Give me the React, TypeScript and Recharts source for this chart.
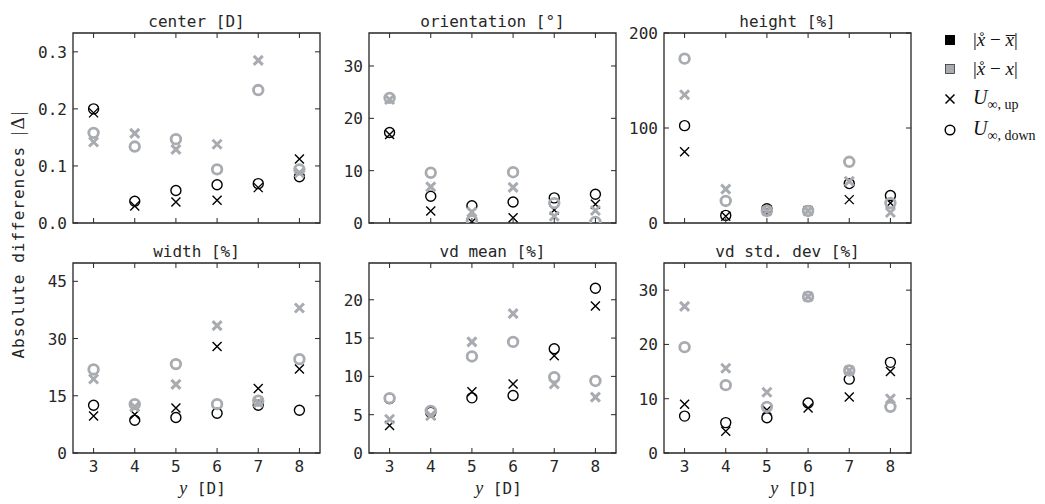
import React from "react"
import { ScatterChart, Scatter, XAxis, YAxis, ReferenceArea } from "recharts"

const yDist = [3, 4, 5, 6, 7, 8]

const titles = ["center [D]", "orientation [°]", "height [%]", "width [%]", "vd mean [%]", "vd std. dev [%]"]
const yMaxes = [0.333, 36.3, 200, 49.8, 24.8, 35]
const yTickSets = [
    [0, 0.1, 0.2, 0.3],
    [0, 10, 20, 30],
    [0, 100, 200],
    [0, 15, 30, 45],
    [0, 5, 10, 15, 20],
    [0, 10, 20, 30],
]

// black: |x̊ - x̄|, gray: |x̊ - x|; × = U∞,up, ○ = U∞,down
const centerBarUp = [0.193, 0.030, 0.037, 0.040, 0.062, 0.112]
const centerBarDown = [0.200, 0.038, 0.057, 0.067, 0.069, 0.081]
const centerUp = [0.142, 0.157, 0.129, 0.138, 0.285, 0.088]
const centerDown = [0.158, 0.134, 0.147, 0.094, 0.233, 0.094]

const orientBarUp = [16.9, 2.3, 0.2, 1.0, 2.5, 3.6]
const orientBarDown = [17.3, 5.1, 3.3, 4.0, 4.8, 5.5]
const orientUp = [23.6, 6.9, 2.1, 6.8, 1.3, 2.4]
const orientDown = [23.9, 9.6, 0.5, 9.7, 3.8, 0.2]

const heightBarUp = [75, 7, 14, 13, 24.6, 21]
const heightBarDown = [102.5, 8, 15, 13, 41.5, 29]
const heightUp = [135, 35.6, 12.7, 12.7, 44, 11]
const heightDown = [173, 23.2, 12.7, 12.7, 64.4, 21]

const widthBarUp = [9.7, 10.1, 11.8, 27.9, 16.9, 22.0]
const widthBarDown = [12.5, 8.6, 9.3, 10.4, 12.5, 11.2]
const widthUp = [19.4, 12.1, 18.0, 33.4, 13.2, 38.0]
const widthDown = [21.9, 12.8, 23.3, 12.8, 13.7, 24.6]

const vdMeanBarUp = [3.6, 4.9, 8.0, 9.0, 12.7, 19.2]
const vdMeanBarDown = [7.1, 5.3, 7.2, 7.5, 13.6, 21.5]
const vdMeanUp = [4.4, 4.9, 14.5, 18.2, 9.0, 7.3]
const vdMeanDown = [7.15, 5.5, 12.6, 14.5, 9.9, 9.4]

const vdStdBarUp = [9.0, 4.0, 7.9, 8.3, 10.3, 15.0]
const vdStdBarDown = [6.8, 5.6, 6.5, 9.2, 13.6, 16.7]
const vdStdUp = [27.0, 15.6, 11.2, 28.8, 15.2, 10.0]
const vdStdDown = [19.5, 12.5, 8.5, 28.8, 15.2, 8.5]

const panelSeries = [
    [centerBarUp, centerBarDown, centerUp, centerDown],
    [orientBarUp, orientBarDown, orientUp, orientDown],
    [heightBarUp, heightBarDown, heightUp, heightDown],
    [widthBarUp, widthBarDown, widthUp, widthDown],
    [vdMeanBarUp, vdMeanBarDown, vdMeanUp, vdMeanDown],
    [vdStdBarUp, vdStdBarDown, vdStdUp, vdStdDown],
]

const GRAY = "#a8abb0"
const INK = "#262626"
const MONO = "'DejaVu Sans Mono', monospace"
const SERIF = "'Liberation Serif', 'DejaVu Serif', serif"

const plotLefts = [73, 369, 664]
const plotTops = [33, 263]
const PW = 247
const PH = 190
const YW = 60
const MT = 10
const XH = 30
const TICK = 5

const toPoints = (vals: number[]) => yDist.map((x, i) => ({ x, y: vals[i] }))

const cross = (color: string, sw: number) => (p: any) => {
    const r = 4.5
    return (
        <path
            d={`M${p.cx - r},${p.cy - r}L${p.cx + r},${p.cy + r}M${p.cx - r},${p.cy + r}L${p.cx + r},${p.cy - r}`}
            stroke={color}
            strokeWidth={sw}
            fill="none"
        />
    )
}

const ring = (color: string, sw: number, r: number) => (p: any) => (
    <circle cx={p.cx} cy={p.cy} r={r} stroke={color} strokeWidth={sw} fill="none" />
)

function Panel({ idx }: { idx: number }) {
    const col = idx % 3
    const row = Math.floor(idx / 3)
    const showX = row === 1
    const yMax = yMaxes[idx]
    const [barUp, barDown, up, down] = panelSeries[idx]
    const yLabel = (v: number) => (idx === 0 ? v.toFixed(1) : String(v))

    // inward ticks on both opposite edges, labels outside
    const xTick = (p: any) => (
        <g>
            <line x1={p.x} x2={p.x} y1={p.y} y2={p.y - TICK} stroke={INK} strokeWidth={1} />
            <line x1={p.x} x2={p.x} y1={p.y - PH} y2={p.y - PH + TICK} stroke={INK} strokeWidth={1} />
            {showX && (
                <text x={p.x} y={p.y + 19} textAnchor="middle" fontFamily={MONO} fontSize={16} fill={INK}>
                    {p.payload.value}
                </text>
            )}
        </g>
    )
    const yTick = (p: any) => (
        <g>
            <line x1={p.x} x2={p.x + TICK} y1={p.y} y2={p.y} stroke={INK} strokeWidth={1} />
            <line x1={p.x + PW} x2={p.x + PW - TICK} y1={p.y} y2={p.y} stroke={INK} strokeWidth={1} />
            <text x={p.x - 6} y={p.y + 6} textAnchor="end" fontFamily={MONO} fontSize={16} fill={INK}>
                {yLabel(p.payload.value)}
            </text>
        </g>
    )

    return (
        <div style={{ position: "absolute", left: plotLefts[col] - YW, top: plotTops[row] - MT }}>
            <ScatterChart width={YW + PW + 10} height={MT + PH + XH} margin={{ top: MT, right: 10, bottom: 0, left: 0 }}>
                <XAxis
                    type="number"
                    dataKey="x"
                    domain={[2.5, 8.5]}
                    ticks={yDist}
                    allowDataOverflow
                    height={XH}
                    axisLine={false}
                    tickLine={false}
                    tickSize={0}
                    tickMargin={0}
                    tick={xTick}
                    interval={0}
                />
                <YAxis
                    type="number"
                    dataKey="y"
                    domain={[0, yMax]}
                    ticks={yTickSets[idx]}
                    allowDataOverflow
                    width={YW}
                    axisLine={false}
                    tickLine={false}
                    tickSize={0}
                    tickMargin={0}
                    tick={yTick}
                    interval={0}
                />
                <ReferenceArea x1={2.5} x2={8.5} y1={0} y2={yMax} fill="none" stroke={INK} strokeWidth={1.3} ifOverflow="visible" />
                <Scatter data={toPoints(barUp)} shape={cross("#000", 1.4)} isAnimationActive={false} />
                <Scatter data={toPoints(barDown)} shape={ring("#000", 1.4, 5)} isAnimationActive={false} />
                <Scatter data={toPoints(up)} shape={cross(GRAY, 3)} isAnimationActive={false} />
                <Scatter data={toPoints(down)} shape={ring(GRAY, 2.8, 4.8)} isAnimationActive={false} />
            </ScatterChart>
        </div>
    )
}

function FigureText() {
    const colCenter = (c: number) => plotLefts[c] + PW / 2
    return (
        <svg width={1045} height={504} style={{ position: "absolute", left: 0, top: 0, pointerEvents: "none" }}>
            {titles.map((t, i) => (
                <text
                    key={t}
                    x={colCenter(i % 3)}
                    y={i < 3 ? 27 : 257}
                    textAnchor="middle"
                    fontFamily={MONO}
                    fontSize={16}
                    fill={INK}
                >
                    {t}
                </text>
            ))}
            <text
                transform="translate(24,234) rotate(-90)"
                textAnchor="middle"
                fontFamily={MONO}
                fontSize={16}
                letterSpacing={1}
                fill={INK}
            >
                <tspan>Absolute differences </tspan>
                <tspan fontFamily={SERIF} fontSize={19} letterSpacing={2}>|Δ|</tspan>
            </text>
            {[0, 1, 2].map((c) => (
                <text key={c} x={colCenter(c) + 6} y={494} textAnchor="middle" fill={INK}>
                    <tspan fontFamily={SERIF} fontStyle="italic" fontSize={18}>y</tspan>
                    <tspan fontFamily={MONO} fontSize={16}> [D]</tspan>
                </text>
            ))}
            <g>
                <rect x={945} y={35} width={10} height={10} fill="#000" />
                <rect x={945.5} y={64.5} width={9} height={9} fill={GRAY} stroke="#333" strokeWidth={0.8} />
                <path d="M945.5,94.5L954.5,103.5M945.5,103.5L954.5,94.5" stroke="#000" strokeWidth={1.5} />
                <circle cx={950} cy={130} r={4.8} stroke="#000" strokeWidth={1.5} fill="none" />
                <text x={973} y={46} fontFamily={SERIF} fontSize={19} fill="#111">
                    <tspan>|</tspan>
                    <tspan fontStyle="italic">x̊</tspan>
                    <tspan> − </tspan>
                    <tspan fontStyle="italic">x̅</tspan>
                    <tspan>|</tspan>
                </text>
                <text x={973} y={75} fontFamily={SERIF} fontSize={19} fill="#111">
                    <tspan>|</tspan>
                    <tspan fontStyle="italic">x̊</tspan>
                    <tspan> − </tspan>
                    <tspan fontStyle="italic">x</tspan>
                    <tspan>|</tspan>
                </text>
                <text x={973} y={104} fontFamily={SERIF} fontSize={20} fill="#111">
                    <tspan fontStyle="italic">U</tspan>
                    <tspan fontSize={14} dy={5}>∞, up</tspan>
                </text>
                <text x={973} y={135} fontFamily={SERIF} fontSize={20} fill="#111">
                    <tspan fontStyle="italic">U</tspan>
                    <tspan fontSize={14} dy={5}>∞, down</tspan>
                </text>
            </g>
        </svg>
    )
}

export default function App() {
    return (
        <div style={{ position: "absolute", left: 0, top: 0, width: 1045, height: 504, background: "#fff" }}>
            {[0, 1, 2, 3, 4, 5].map((i) => (
                <Panel key={i} idx={i} />
            ))}
            <FigureText />
        </div>
    )
}
